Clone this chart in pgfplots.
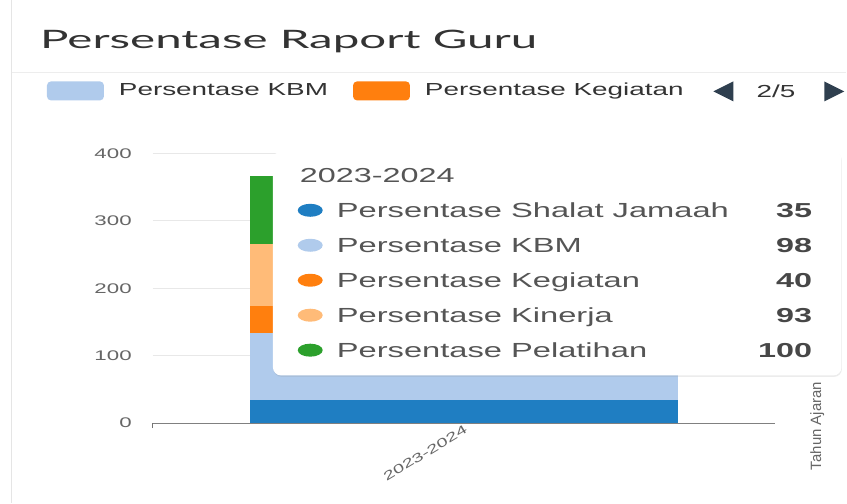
\documentclass[border=0pt]{standalone}
\usepackage{pgfplots}
\pgfplotsset{compat=1.18}
\usepackage{pgfplotstable}
\usepackage{fontspec}
\setmainfont{Liberation Sans}
\newfontfamily\wfont[FakeStretch=1.6]{Liberation Sans}
\newfontfamily\tfont[FakeStretch=1.87]{Lato}
\usetikzlibrary{shadows}
\definecolor{cShalat}{HTML}{1F7EC2}
\definecolor{cKBM}{HTML}{B0CBEC}
\definecolor{cKeg}{HTML}{FF7F0E}
\definecolor{cKin}{HTML}{FFBB78}
\definecolor{cPel}{HTML}{2CA02C}
\definecolor{txtgray}{HTML}{666666}
\definecolor{tipgray}{HTML}{555555}
\definecolor{darktxt}{HTML}{333333}
\definecolor{navy}{HTML}{2F3F4F}

\pgfplotsset{rectlegend/.style={legend image code/.code={\fill[##1, rounded corners=4bp] (0bp,-10.5bp) rectangle (57bp,8.5bp);}}}

\pgfplotstableread{
x shalat kbm keg kin pel
0 35 98 40 93 100
}\datatable

\begin{document}
\begin{tikzpicture}[x=1bp,y=1bp]
\path[fill=white] (0,0) rectangle (847,503);
\draw[black!10, line width=1bp] (12,0) -- (12,503);
\draw[black!7, line width=1.5bp] (12,431) -- (847,431);
\node[anchor=base west, inner sep=0pt, text=darktxt, font=\tfont\fontsize{25.5}{30}\selectfont] at (40,454.7) {Persentase Raport Guru};

\begin{axis}[
  at={(153bp,80bp)}, anchor=south west,
  scale only axis, width=623bp, height=270bp,
  xmin=-0.5, xmax=0.5, ymin=0, ymax=400,
  ytick={0,100,200,300,400},
  xtick={0}, xticklabels={2023-2024},
  extra x ticks={-0.5}, extra x tick labels={\empty},
  extra x tick style={major tick length=5bp, tick style={draw=black!55, line width=1bp}, tick align=outside},
  axis lines=left, axis line style={-},
  x axis line style={draw=black!50, line width=1.2bp},
  y axis line style={draw=none},
  ymajorgrids, grid style={draw=black!9, line width=1bp},
  major tick length=0pt,
  ybar stacked, bar width=429bp,
  every axis plot/.append style={draw=none},
  /pgf/number format/assume math mode=true,
  ticklabel style={font=\wfont\fontsize{14}{16}\selectfont, text=txtgray},
  yticklabel style={inner sep=0pt, xshift=-21bp},
  xticklabel style={rotate=31, anchor=north east, inner sep=1bp, font=\wfont\fontsize{12.5}{14}\selectfont},
  xlabel={Tahun Ajaran},
  xlabel style={at={(axis description cs:1.0674,-0.011)}, rotate=90, anchor=center, font=\fontsize{15}{17}\selectfont, text=txtgray},
  legend columns=-1,
  legend cell align=left,
  legend style={at={(axis description cs:-0.1701,1.2315)}, anchor=west, draw=none, fill=none, inner sep=0pt, outer sep=0pt,
    font=\wfont\fontsize{17.5}{20}\selectfont, text=darktxt, nodes={inner sep=0pt},
    /tikz/every odd column/.style={column sep=15bp}, /tikz/every even column/.style={column sep=25bp}},
]
\addlegendimage{fill=cKBM, draw=none, rectlegend}
\addlegendimage{fill=cKeg, draw=none, rectlegend}
\addplot[fill=cShalat] table[x=x,y=shalat]{\datatable};
\addplot[fill=cKBM] table[x=x,y=kbm]{\datatable};
\addplot[fill=cKeg] table[x=x,y=keg]{\datatable};
\addplot[fill=cKin] table[x=x,y=kin]{\datatable};
\addplot[fill=cPel] table[x=x,y=pel]{\datatable};
\legend{Persentase KBM, Persentase Kegiatan}
\draw[draw=black!35, line width=1bp, dash pattern=on 4bp off 3bp] (axis cs:0,0) -- (axis cs:0,400);
\end{axis}

% tooltip
\node[fill=white, rounded corners=8bp, drop shadow={opacity=0.15, shadow xshift=0.5bp, shadow yshift=-1.5bp}, minimum width=569bp, minimum height=224bp, inner sep=0pt, anchor=north west] at (273,352) {};
\node[anchor=base west, inner sep=0pt, text=tipgray, font=\wfont\fontsize{20.3}{24}\selectfont] at (300,321) {2023-2024};
\foreach \yy/\cc/\lab/\val in {286/cShalat/Persentase Shalat Jamaah/35, 251/cKBM/Persentase KBM/98, 216/cKeg/Persentase Kegiatan/40, 181/cKin/Persentase Kinerja/93, 146/cPel/Persentase Pelatihan/100}{
  \fill[\cc] (310.5,\yy+7) ellipse [x radius=12.5bp, y radius=6.5bp];
  \node[anchor=base west, inner sep=0pt, text=tipgray, font=\wfont\fontsize{20.5}{24}\selectfont] at (337,\yy) {\lab};
  \node[anchor=base east, inner sep=0pt, text=darktxt!90, font=\wfont\fontsize{20.3}{24}\selectfont\bfseries] at (813,\yy) {\val};
}
% pager
\fill[navy] (714,412) -- (734,422) -- (734,402) -- cycle;
\node[anchor=base west, inner sep=0pt, text=darktxt, font=\wfont\fontsize{17.5}{20}\selectfont] at (757,406.3) {2/5};
\fill[navy] (825,422) -- (825,402) -- (845,412) -- cycle;
\end{tikzpicture}
\end{document}
